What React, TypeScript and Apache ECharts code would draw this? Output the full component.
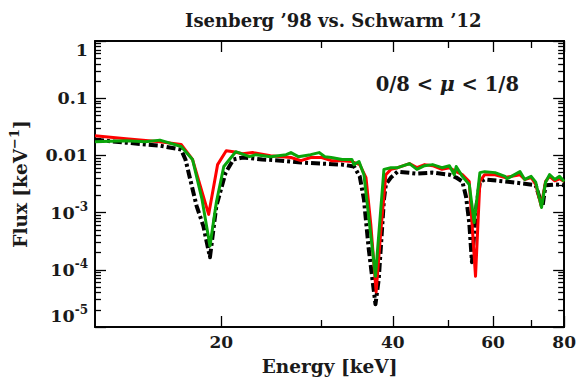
import React, { useEffect, useRef } from 'react';
import * as echarts from 'echarts';

const titleText = 'Isenberg ’98 vs. Schwarm ’12';
const muLabel = '0/8 < {mu|μ} < 1/8';
const xName = 'Energy [keV]';
const yName = 'Flux [keV{s|−1}]';

const X_MIN = 12;
const X_MAX = 80;
const Y_MIN = 1e-5;
const Y_MAX = 1;

const xMajorTicks = [20, 40, 60, 80];
const xMinorTicks = [30, 50, 70];
const xTickLabels: Record<string, string> = { '20': '20', '40': '40', '60': '60', '80': '80' };
const yDecades = [1e-5, 1e-4, 1e-3, 1e-2, 1e-1, 1];
const yMantissas = [2, 3, 4, 5, 6, 7, 8, 9];
const yTickLabels: Record<string, string> = {
  '0': '1',
  '-1': '0.1',
  '-2': '0.01',
  '-3': '{b|10}{s|-3}',
  '-4': '{b|10}{s|-4}',
  '-5': '{b|10}{s|-5}',
};

const redEnergy = [12.0, 13.6, 15.6, 17.0, 17.8, 19.0, 19.7, 20.4, 21.0, 21.8, 22.7, 24.4, 26.5, 27.6, 28.7, 30.0, 31.2, 32.6, 33.9, 35.0, 35.9, 36.6, 37.4, 38.1, 38.9, 39.7, 40.8, 42.8, 44.1, 45.5, 47.0, 48.8, 50.3, 51.7, 53.0, 54.5, 55.9, 56.9, 58.0, 60.5, 63.0, 66.9, 68.2, 70.0, 71.3, 72.9, 74.2, 75.4, 77.0, 78.5, 80.0];
const redFlux = [0.0221, 0.0196, 0.0174, 0.0155, 0.0085, 0.00093, 0.0069, 0.0121, 0.0116, 0.0107, 0.0112, 0.0099, 0.0092, 0.0081, 0.0092, 0.0092, 0.0081, 0.0081, 0.0078, 0.0069, 0.0041, 0.00063, 0.000041, 0.00045, 0.0046, 0.0057, 0.0061, 0.0072, 0.0061, 0.0069, 0.0066, 0.0057, 0.0061, 0.0052, 0.0046, 0.0035, 0.000077, 0.0035, 0.0046, 0.0046, 0.0041, 0.0046, 0.0038, 0.0041, 0.0031, 0.0013, 0.0035, 0.0043, 0.0036, 0.0039, 0.0035];

const greenEnergy = [12.0, 13.6, 14.7, 15.6, 17.0, 17.8, 18.5, 19.1, 19.6, 20.2, 21.2, 22.4, 23.0, 24.4, 26.0, 26.5, 27.3, 28.7, 29.7, 30.4, 31.2, 32.6, 33.9, 34.2, 34.9, 35.6, 37.3, 38.6, 39.7, 40.8, 42.8, 44.1, 45.5, 47.0, 48.8, 50.3, 51.3, 51.7, 53.0, 54.5, 55.6, 56.9, 58.0, 60.5, 63.0, 63.5, 66.9, 68.2, 70.0, 71.3, 73.0, 74.2, 75.4, 77.0, 78.5, 80.0];
const greenFlux = [0.0174, 0.018, 0.0174, 0.0185, 0.0143, 0.0085, 0.0017, 0.00026, 0.0015, 0.0064, 0.0116, 0.0095, 0.0103, 0.0095, 0.0103, 0.0112, 0.0095, 0.0103, 0.0112, 0.0095, 0.0092, 0.0085, 0.0085, 0.0069, 0.0078, 0.0046, 0.000077, 0.0057, 0.0061, 0.0061, 0.0072, 0.0057, 0.0066, 0.0069, 0.0061, 0.0066, 0.0046, 0.0064, 0.0043, 0.0031, 0.00067, 0.005, 0.0052, 0.005, 0.0043, 0.0039, 0.0052, 0.0038, 0.0043, 0.0034, 0.00123, 0.0034, 0.0046, 0.0038, 0.0043, 0.0035];

const blackEnergy = [12.0, 13.6, 15.6, 17.0, 17.3, 18.1, 18.6, 19.1, 19.6, 20.35, 21.0, 21.8, 23.6, 25.5, 27.6, 30.0, 32.6, 34.2, 35.0, 35.6, 36.3, 37.3, 37.8, 38.1, 38.6, 38.9, 39.7, 40.8, 44.1, 47.0, 50.3, 51.7, 53.0, 53.8, 54.5, 55.1, 56.1, 56.9, 58.0, 63.0, 68.2, 71.3, 72.6, 73.3, 74.2, 77.0, 80.0];
const blackFlux = [0.0188, 0.0167, 0.0148, 0.0126, 0.0085, 0.0013, 0.00058, 0.000166, 0.0013, 0.005, 0.0085, 0.0092, 0.0085, 0.0081, 0.0075, 0.0072, 0.0069, 0.0064, 0.0043, 0.0017, 0.00023, 0.000025, 0.000069, 0.00023, 0.0017, 0.0031, 0.0041, 0.0052, 0.0048, 0.005, 0.0046, 0.0041, 0.0035, 0.0019, 0.00067, 0.000136, 0.0013, 0.0034, 0.0038, 0.0035, 0.0032, 0.003, 0.0017, 0.0013, 0.003, 0.0031, 0.003];

const FONT = '"DejaVu Serif", "Liberation Serif", serif';
const INK = '#1a1a1a';
const TICK = '#000';
const TW = 1.3;

function pairs(xs: number[], ys: number[]) {
  return xs.map((x, i) => [x, ys[i]]);
}

const axisLineStyle = { show: true, lineStyle: { color: TICK, width: 1.5 } };

function tickOnlyAxis(base: any, position: string, values: number[], len: number) {
  return {
    ...base,
    position,
    axisLine: axisLineStyle,
    axisLabel: { show: false },
    splitLine: { show: false },
    axisTick: { show: true, inside: true, length: len, customValues: values, lineStyle: { color: TICK, width: TW } },
  };
}

export default function App() {
  const ref = useRef<HTMLDivElement>(null);
  useEffect(() => {
    if (!ref.current) return;
    const chart = echarts.init(ref.current, undefined, { renderer: 'svg' });

    const yMinor: number[] = [];
    yDecades.slice(0, -1).forEach((d) => yMantissas.forEach((m) => yMinor.push(m * d)));

    const MAJ = 11;
    const MIN_X = 7;
    const MIN_Y = 6;

    const xBase = { type: 'log', logBase: 10, min: X_MIN, max: X_MAX };
    const yBase = { type: 'log', logBase: 10, min: Y_MIN, max: Y_MAX };

    chart.setOption({
      animation: false,
      title: [
        {
          text: titleText,
          left: 180,
          top: 6,
          textStyle: { fontFamily: FONT, fontWeight: 'bold', fontSize: 18, color: INK },
        },
        {
          text: muLabel,
          right: 55,
          top: 69,
          textStyle: {
            fontFamily: FONT,
            fontWeight: 'bold',
            fontSize: 19.5,
            color: INK,
            rich: {
              mu: { fontFamily: FONT, fontWeight: 'bold', fontStyle: 'italic', fontSize: 20.5, color: INK },
            },
          },
        },
      ],
      grid: {
        left: 89,
        top: 41,
        right: 12,
        bottom: 53,
        show: true,
        borderColor: '#222',
        borderWidth: 1.5,
      },
      xAxis: [
        {
          ...xBase,
          position: 'bottom',
          axisLine: axisLineStyle,
          splitLine: { show: false },
          axisTick: { show: true, inside: true, length: MAJ, customValues: xMajorTicks, lineStyle: { color: TICK, width: TW } },
          axisLabel: {
            show: true,
            customValues: xMajorTicks,
            margin: 6,
            formatter: (v: number) => xTickLabels[String(Math.round(v))] ?? '',
            fontFamily: FONT,
            fontWeight: 'bold',
            fontSize: 17,
            color: INK,
            showMinLabel: true,
            showMaxLabel: true,
          },
          name: xName,
          nameLocation: 'middle',
          nameGap: 30,
          nameTextStyle: { fontFamily: FONT, fontWeight: 'bold', fontSize: 18.5, color: INK },
        },
        tickOnlyAxis(xBase, 'bottom', xMinorTicks, MIN_X),
        tickOnlyAxis(xBase, 'top', xMajorTicks, MAJ),
        tickOnlyAxis(xBase, 'top', xMinorTicks, MIN_X),
      ],
      yAxis: [
        {
          ...yBase,
          position: 'left',
          axisLine: axisLineStyle,
          splitLine: { show: false },
          axisTick: { show: true, inside: true, length: MAJ, lineStyle: { color: TICK, width: TW } },
          axisLabel: {
            margin: 7,
            fontFamily: FONT,
            fontWeight: 'bold',
            fontSize: 17.5,
            color: INK,
            verticalAlignMaxLabel: 'top',
            verticalAlignMinLabel: 'bottom',
            formatter: (v: number) => yTickLabels[String(Math.round(Math.log10(v)))] ?? '',
            rich: {
              b: { fontFamily: FONT, fontWeight: 'bold', fontSize: 17.5, color: INK },
              s: { fontFamily: FONT, fontWeight: 'bold', fontSize: 12, color: INK, padding: [0, 0, 11, 0] },
            },
          },
          name: yName,
          nameLocation: 'middle',
          nameGap: 62,
          nameRotate: 90,
          nameTextStyle: {
            fontFamily: FONT,
            fontWeight: 'bold',
            fontSize: 18.5,
            color: INK,
            rich: {
              s: { fontFamily: FONT, fontWeight: 'bold', fontSize: 13, color: INK, padding: [0, 0, 12, 0] },
            },
          },
        },
        tickOnlyAxis(yBase, 'left', yMinor, MIN_Y),
        tickOnlyAxis(yBase, 'right', yDecades, MAJ),
        tickOnlyAxis(yBase, 'right', yMinor, MIN_Y),
      ],
      series: [
        {
          type: 'line',
          name: 'black',
          data: pairs(blackEnergy, blackFlux),
          showSymbol: false,
          lineStyle: { color: '#000', width: 4, type: [9, 3, 3, 3], cap: 'butt', join: 'round' },
        },
        {
          type: 'line',
          name: 'red',
          data: pairs(redEnergy, redFlux),
          showSymbol: false,
          lineStyle: { color: '#ff0000', width: 3, join: 'round' },
        },
        {
          type: 'line',
          name: 'green',
          data: pairs(greenEnergy, greenFlux),
          showSymbol: false,
          lineStyle: { color: '#0aa50a', width: 3, join: 'round' },
        },
      ],
    });
    return () => chart.dispose();
  }, []);
  return (
    <div
      ref={ref}
      style={{ position: 'absolute', left: 0, top: 0, width: 579, height: 381, background: '#fff' }}
    />
  );
}
